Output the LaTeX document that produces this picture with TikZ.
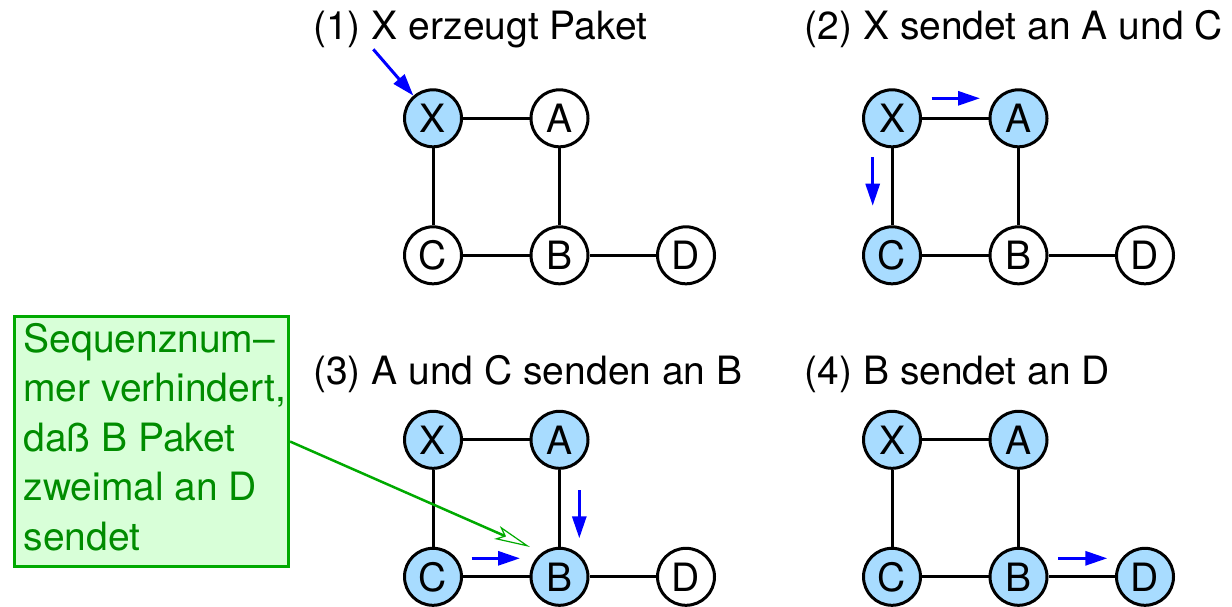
\documentclass[tikz,border=0pt]{standalone}
\usepackage{fontspec}
\setmainfont{TeX Gyre Heros}
\usetikzlibrary{arrows.meta}
\definecolor{nodeblue}{RGB}{168,220,255}
\definecolor{pktblue}{RGB}{0,0,255}
\definecolor{notegreen}{RGB}{0,170,0}
\definecolor{notetext}{RGB}{0,140,0}
\definecolor{notefill}{RGB}{216,255,216}
\tikzset{
  big/.style={font=\fontsize{39}{49.5}\selectfont},
  host/.style={circle, draw, line width=3pt, minimum size=57pt, inner sep=0pt, fill=white, big},
  got/.style={host, fill=nodeblue},
  link/.style={line width=3pt},
  pkt/.style={pktblue, line width=3pt, -{Triangle[length=22pt,width=14pt]}},
  title/.style={anchor=base west, inner sep=0pt, big},
  note/.style={draw=notegreen, fill=notefill, text=notetext, line width=3pt,
    minimum width=273pt, minimum height=250.4pt, inner xsep=2.5pt, inner ysep=1.5pt, big},
  notearrow/.style={notegreen, line width=2.5pt,
    -{Stealth[open, length=36pt, width=14pt, inset=8pt, line width=1.2pt]}}
}
\begin{document}
\begin{tikzpicture}[x=1pt,y=-1pt]
\useasboundingbox (0,0) rectangle (1232,606);

% titles
\node[title] (t1) at (313,39.3) {(1) X erzeugt Paket};
\node[title] (t2) at (804.5,39.3) {(2) X sendet an A und C};
\node[title] (t3) at (313,384.3) {(3) A und C senden an B};
\node[title] (t4) at (804.5,384.3) {(4) B sendet an D};

% panel 1
\node[got]  (X1) at (433,118.3) {X};
\node[host] (A1) at (559.5,118.3) {A};
\node[host] (C1) at (433,255.3) {C};
\node[host] (B1) at (559.5,255.3) {B};
\node[host] (D1) at (686,255.3) {D};
% panel 2
\node[got]  (X2) at (892,118.3) {X};
\node[got]  (A2) at (1018.5,118.3) {A};
\node[got]  (C2) at (892,255.3) {C};
\node[host] (B2) at (1018.5,255.3) {B};
\node[host] (D2) at (1145,255.3) {D};
% panel 3
\node[got]  (X3) at (433,439.8) {X};
\node[got]  (A3) at (559.5,439.8) {A};
\node[got]  (C3) at (433,576.8) {C};
\node[got]  (B3) at (559.5,576.8) {B};
\node[host] (D3) at (686,576.8) {D};
% panel 4
\node[got]  (X4) at (892,439.8) {X};
\node[got]  (A4) at (1018.5,439.8) {A};
\node[got]  (C4) at (892,576.8) {C};
\node[got]  (B4) at (1018.5,576.8) {B};
\node[got]  (D4) at (1145,576.8) {D};

\foreach \i in {1,2,3,4}{
  \draw[link] (X\i) -- (A\i);
  \draw[link] (X\i) -- (C\i);
  \draw[link] (A\i) -- (B\i);
  \draw[link] (C\i) -- (B\i);
  \draw[link] (B\i) -- (D\i);
}

% packet arrows
\coordinate (in1) at (373.3,49.3);
\draw[pkt] (in1) -- (X1);
\draw[pkt] (931.7,98.3) -- (980,98.3);
\draw[pkt] (872.7,157.3) -- (872.7,205.7);
\draw[pkt] (579.3,490) -- (579.3,538.3);
\draw[pkt] (471.7,558.3) -- (520,558.3);
\draw[pkt] (1058.3,558.3) -- (1107.3,558.3);

% note
\node[note, anchor=north west] (note) at (12.5,314.8)
  {\begin{tabular}{@{\hspace{7pt}}l@{}}
   Sequenznum–\\
   mer verhindert,\\
   daß B Paket\\
   zweimal an D\\
   sendet
   \end{tabular}};
\coordinate (gtip) at (530,547);
\draw[notearrow] (note.east) -- (gtip);
\end{tikzpicture}
\end{document}
